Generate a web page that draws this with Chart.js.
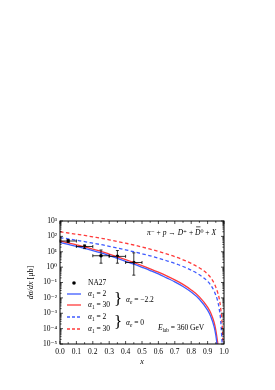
<!DOCTYPE html>
<html>
<head>
<meta charset="utf-8">
<script src="https://cdn.jsdelivr.net/npm/chart.js@4/dist/chart.umd.min.js"></script>
<style>
  html, body { margin: 0; padding: 0; background: #fff; }
  #wrap { width: 275px; height: 390px; }
</style>
</head>
<body>
<div id="wrap"><canvas id="c" width="275" height="390"></canvas></div>
<script>
const FONT = "'Liberation Serif', 'DejaVu Serif', serif";
const C_RED  = '#ff3b3b';
const C_BLUE = '#3f5bff';

// x grid shared by the four model curves
const curveX = [0, 0.05, 0.1, 0.15, 0.2, 0.25, 0.3, 0.35, 0.4, 0.45, 0.5, 0.55, 0.6, 0.65,
                0.7, 0.75, 0.8, 0.85, 0.9, 0.92, 0.94, 0.95, 0.96, 0.97, 0.98, 0.99, 0.995];

// alpha_e = -2.2 (solid)
const solidA2  = [40, 30, 22.5, 16.5, 12, 8.4, 5.6, 3.7, 2.4, 1.55, 0.97, 0.6, 0.36, 0.2,
                  0.11, 0.055, 0.024, 0.0082, 0.0016, 6e-4, 1.3e-4, 3.8e-5, 6e-6, 8e-7, 1e-7, 1e-8, 1e-8];
const solidA30 = [50, 38, 28, 21, 15, 10.7, 7.1, 4.7, 3.1, 2.0, 1.26, 0.78, 0.47, 0.27,
                  0.148, 0.076, 0.033, 0.0117, 0.0025, 0.001, 2.5e-4, 7.9e-5, 1.6e-5, 2.5e-6, 2e-7, 1e-8, 1e-8];
// alpha_e = 0 (dashed)
const dashA2   = [83, 69, 56, 46, 36, 29, 22.4, 17.4, 13.2, 10, 7.4, 5.4, 3.8, 2.6,
                  1.74, 1.1, 0.63, 0.32, 0.12, 0.066, 0.028, 0.015, 0.0071, 0.0022, 3.2e-4, 6.3e-6, 1e-6];
const dashA30  = [200, 166, 138, 115, 93, 76, 60, 47, 36, 27.5, 20.4, 14.8, 10.5, 7.2,
                  4.8, 3.0, 1.74, 0.89, 0.355, 0.2, 0.089, 0.05, 0.025, 0.01, 0.002, 1e-4, 3e-6];

// NA27 data
const na27X   = [0.05, 0.15, 0.25, 0.35, 0.45];
const na27Y   = [50, 22, 5.5, 5, 2];
const na27Lo  = [40, 16, 1.8, 1.8, 0.3];
const na27Hi  = [62, 28, 13, 12, 8.5];
const na27Dx  = [0.05, 0.05, 0.05, 0.05, 0.05];

const xTicks = [0, 0.1, 0.2, 0.3, 0.4, 0.5, 0.6, 0.7, 0.8, 0.9, 1.0];
const yMin = 1e-5, yMax = 1e3;

const pts = ys => curveX.map((x, i) => ({ x, y: ys[i] }));

function sup(s) {
  const m = { '-': '⁻', '0': '⁰', '1': '¹', '2': '²', '3': '³', '4': '⁴', '5': '⁵', '6': '⁶', '7': '⁷', '8': '⁸', '9': '⁹' };
  return s.split('').map(c => m[c] || c).join('');
}

// draw a run of text pieces: {t, it, sub, bar}
function rich(ctx, x, y, parts, size) {
  let cx = x;
  parts.forEach(p => {
    const sz = p.sub ? size * 0.7 : size;
    ctx.font = (p.it ? 'italic ' : '') + sz + 'px ' + FONT;
    const dy = p.sub ? size * 0.3 : (p.sup ? -size * 0.4 : 0);
    ctx.fillText(p.t, cx, y + dy);
    const w = ctx.measureText(p.t).width;
    if (p.bar) {
      ctx.beginPath();
      ctx.moveTo(cx + 1, y - size * 0.82);
      ctx.lineTo(cx + w, y - size * 0.82);
      ctx.lineWidth = 0.7;
      ctx.stroke();
    }
    cx += w;
  });
  return cx - x;
}

const decor = {
  id: 'decor',
  afterDatasetsDraw(chart) {
    const { ctx, chartArea: a, scales: { x: sx, y: sy } } = chart;
    ctx.save();
    ctx.strokeStyle = '#000';
    ctx.fillStyle = '#000';

    // error bars
    ctx.lineWidth = 0.8;
    na27X.forEach((xv, i) => {
      const px = sx.getPixelForValue(xv), py = sy.getPixelForValue(na27Y[i]);
      const x0 = sx.getPixelForValue(xv - na27Dx[i]), x1 = sx.getPixelForValue(xv + na27Dx[i]);
      const y0 = sy.getPixelForValue(na27Lo[i]), y1 = sy.getPixelForValue(na27Hi[i]);
      ctx.beginPath();
      ctx.moveTo(x0, py); ctx.lineTo(x1, py);
      ctx.moveTo(x0, py - 1.5); ctx.lineTo(x0, py + 1.5);
      ctx.moveTo(x1, py - 1.5); ctx.lineTo(x1, py + 1.5);
      ctx.moveTo(px, y0); ctx.lineTo(px, y1);
      ctx.moveTo(px - 1.5, y0); ctx.lineTo(px + 1.5, y0);
      ctx.moveTo(px - 1.5, y1); ctx.lineTo(px + 1.5, y1);
      ctx.stroke();
    });

    // frame
    ctx.lineWidth = 1;
    ctx.strokeRect(a.left, a.top, a.right - a.left, a.bottom - a.top);

    // inward ticks
    ctx.lineWidth = 0.7;
    ctx.beginPath();
    for (let i = 0; i <= 20; i++) {
      const px = sx.getPixelForValue(i * 0.05);
      const len = i % 2 === 0 ? 3 : 1.8;
      ctx.moveTo(px, a.bottom); ctx.lineTo(px, a.bottom - len);
      ctx.moveTo(px, a.top); ctx.lineTo(px, a.top + len);
    }
    for (let e = -5; e <= 3; e++) {
      for (let k = 1; k <= 9; k++) {
        const v = k * Math.pow(10, e);
        if (v > yMax) break;
        const py = sy.getPixelForValue(v);
        const len = k === 1 ? 3 : 1.6;
        ctx.moveTo(a.left, py); ctx.lineTo(a.left + len, py);
        ctx.moveTo(a.right, py); ctx.lineTo(a.right - len, py);
      }
    }
    ctx.stroke();

    // axis titles
    ctx.textBaseline = 'middle';
    ctx.save();
    ctx.translate(31, (a.top + a.bottom) / 2);
    ctx.rotate(-Math.PI / 2);
    ctx.font = '8px ' + FONT;
    const tParts = [{ t: 'd\u03C3/dx ', it: true }, { t: '[\u03BCb]' }];
    ctx.font = 'italic 8px ' + FONT;
    let tw = ctx.measureText('d\u03C3/dx ').width;
    ctx.font = '8px ' + FONT;
    tw += ctx.measureText('[\u03BCb]').width;
    rich(ctx, -tw / 2, 0, tParts, 8);
    ctx.restore();

    ctx.textAlign = 'center';
    ctx.font = 'italic 8px ' + FONT;
    ctx.fillText('x', (a.left + a.right) / 2, 362);
    ctx.textAlign = 'left';

    // reaction label
    rich(ctx, 147, 233, [
      { t: '\u03C0', it: true }, { t: '\u207B', }, { t: ' + ' }, { t: 'p', it: true },
      { t: ' \u2192 ' }, { t: 'D', it: true }, { t: '\u207A' }, { t: ' + ' },
      { t: 'D', it: true, bar: true }, { t: '\u2070' }, { t: ' + ' }, { t: 'X', it: true }
    ], 7.5);

    // energy label
    rich(ctx, 158, 328, [
      { t: 'E', it: true }, { t: 'lab', sub: true }, { t: ' = 360 GeV' }
    ], 7.5);

    // legend
    const lx0 = 67, lx1 = 81, tx = 88;
    const rows = [
      { y: 283, kind: 'pt' },
      { y: 294, color: C_BLUE, dash: [], a: '2' },
      { y: 305, color: C_RED, dash: [], a: '30' },
      { y: 317, color: C_BLUE, dash: [3, 2], a: '2' },
      { y: 329, color: C_RED, dash: [3, 2], a: '30' },
    ];
    rows.forEach(r => {
      if (r.kind === 'pt') {
        ctx.beginPath();
        ctx.arc((lx0 + lx1) / 2, r.y, 1.8, 0, Math.PI * 2);
        ctx.fill();
        ctx.font = '7.5px ' + FONT;
        ctx.fillText('NA27', tx, r.y);
      } else {
        ctx.save();
        ctx.strokeStyle = r.color;
        ctx.lineWidth = 1.3;
        ctx.setLineDash(r.dash);
        ctx.beginPath();
        ctx.moveTo(lx0, r.y); ctx.lineTo(lx1, r.y);
        ctx.stroke();
        ctx.restore();
        rich(ctx, tx, r.y, [{ t: '\u03B1', it: true }, { t: '1', sub: true }, { t: ' = ' + r.a }], 7.5);
      }
    });
    // braces
    ctx.font = '17px ' + FONT;
    ctx.fillText('}', 114, 300);
    ctx.fillText('}', 114, 323);
    rich(ctx, 126, 300, [{ t: '\u03B1', it: true }, { t: 'e', sub: true, it: true }, { t: ' = \u22122.2' }], 7.5);
    rich(ctx, 126, 323, [{ t: '\u03B1', it: true }, { t: 'e', sub: true, it: true }, { t: ' = 0' }], 7.5);

    ctx.restore();
  }
};

function lineSet(label, ys, color, dash) {
  return {
    type: 'line', label, data: pts(ys), borderColor: color, borderWidth: 1.3,
    borderDash: dash, pointRadius: 0, tension: 0.3, fill: false, cubicInterpolationMode: 'monotone'
  };
}

new Chart(document.getElementById('c'), {
  type: 'line',
  data: {
    datasets: [
      lineSet('a1=2 ae=-2.2', solidA2, C_BLUE, []),
      lineSet('a1=30 ae=-2.2', solidA30, C_RED, []),
      lineSet('a1=2 ae=0', dashA2, C_BLUE, [3.5, 2.5]),
      lineSet('a1=30 ae=0', dashA30, C_RED, [3.5, 2.5]),
      {
        type: 'scatter', label: 'NA27',
        data: na27X.map((x, i) => ({ x, y: na27Y[i] })),
        pointRadius: 1.8, pointBackgroundColor: '#000', pointBorderColor: '#000', borderWidth: 0
      }
    ]
  },
  options: {
    responsive: false,
    animation: false,
    layout: { padding: { top: 221, right: 51, bottom: 20, left: 0 } },
    plugins: { legend: { display: false }, tooltip: { enabled: false } },
    scales: {
      x: {
        type: 'linear', min: 0, max: 1,
        afterBuildTicks: s => { s.ticks = xTicks.map(v => ({ value: v })); },
        afterFit: s => { s.height = 26; },
        grid: { display: false, drawTicks: false },
        border: { display: false },
        ticks: { padding: 4, color: '#000', font: { family: FONT, size: 7.5 }, maxRotation: 0, autoSkip: false,
                 callback: v => v.toFixed(1) },
      },
      y: {
        type: 'logarithmic', min: yMin, max: yMax,
        afterFit: s => { s.width = 60; },
        grid: { display: false, drawTicks: false },
        border: { display: false },
        ticks: {
          padding: 3, color: '#000', font: { family: FONT, size: 7.5 }, autoSkip: false,
          callback: v => {
            const e = Math.log10(v);
            return Math.abs(e - Math.round(e)) < 1e-9 ? '10' + sup(String(Math.round(e))) : '';
          }
        },
      },
    },
  },
  plugins: [decor],
});
</script>
</body>
</html>
